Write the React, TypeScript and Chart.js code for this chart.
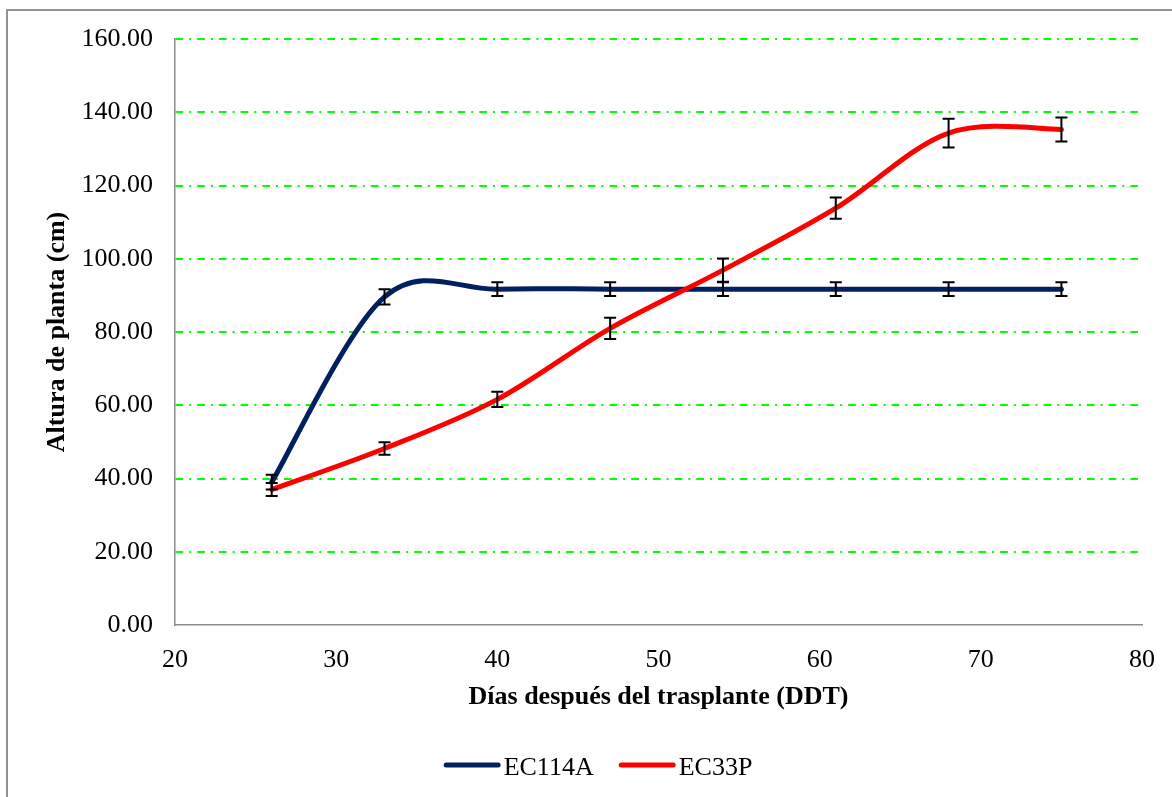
import React, { useEffect, useRef } from 'react';
import { Chart, registerables } from 'chart.js';

Chart.register(...registerables);

// ---- data ----
const DAYS = [26, 33, 40, 47, 54, 61, 68, 75];
const EC114A = [39.0, 89.6, 91.7, 91.7, 91.7, 91.7, 91.7, 91.7];
const EC114A_ERR = [2.0, 2.1, 1.9, 1.9, 1.9, 1.9, 1.9, 1.9];
const EC33P = [37.0, 48.2, 61.6, 81.0, 96.9, 113.8, 134.3, 135.3];
const EC33P_ERR = [1.8, 1.7, 2.1, 2.9, 3.2, 2.9, 3.9, 3.3];
const SERIES_NAMES = ['EC114A', 'EC33P'];
const SERIES_COLORS = ['#002060', '#FF0000'];
const X_MIN = 20;
const X_MAX = 80;
const X_STEP = 10;
const Y_MIN = 0;
const Y_MAX = 160;
const Y_STEP = 20;
const X_TITLE = 'Días después del trasplante (DDT)';
const Y_TITLE = 'Altura de planta (cm)';

const FONT = "'Liberation Serif', 'Times New Roman', serif";

// Excel-like smoothing: Catmull-Rom control points (tangent = (next - prev) / 6)
const excelSmoothPlugin = {
  id: 'excelSmooth',
  beforeDatasetsDraw(chart: any) {
    chart.data.datasets.forEach((_ds: any, di: number) => {
      const meta = chart.getDatasetMeta(di);
      const line = meta.dataset;
      if (line && typeof line.updateControlPoints === 'function') {
        line.updateControlPoints(chart.chartArea, 'x');
      }
      const pts = meta.data;
      pts.forEach((p: any, i: number) => {
        const prev = pts[Math.max(i - 1, 0)];
        const next = pts[Math.min(i + 1, pts.length - 1)];
        const tx = (next.x - prev.x) / 6;
        const ty = (next.y - prev.y) / 6;
        p.cp1x = p.x - tx;
        p.cp1y = p.y - ty;
        p.cp2x = p.x + tx;
        p.cp2y = p.y + ty;
      });
    });
  },
};

const errorBarPlugin = {
  id: 'errorBars',
  afterDatasetsDraw(chart: any) {
    const { ctx } = chart;
    const yScale = chart.scales.y;
    ctx.save();
    ctx.strokeStyle = '#000000';
    ctx.lineWidth = 2;
    chart.data.datasets.forEach((ds: any, di: number) => {
      const meta = chart.getDatasetMeta(di);
      const errs: number[] = ds.errors || [];
      meta.data.forEach((el: any, i: number) => {
        const v = ds.data[i].y;
        const e = errs[i] || 0;
        const x = el.x;
        const yt = yScale.getPixelForValue(v + e);
        const yb = yScale.getPixelForValue(v - e);
        const cap = 6;
        ctx.beginPath();
        ctx.moveTo(x, yt);
        ctx.lineTo(x, yb);
        ctx.moveTo(x - cap, yt);
        ctx.lineTo(x + cap, yt);
        ctx.moveTo(x - cap, yb);
        ctx.lineTo(x + cap, yb);
        ctx.stroke();
      });
    });
    ctx.restore();
  },
};

const legendPlugin = {
  id: 'customLegend',
  afterDraw(chart: any) {
    const { ctx } = chart;
    const lineLen = 57;
    const textGap = 3;
    const itemGap = 25;
    ctx.save();
    ctx.font = `26px ${FONT}`;
    const items = chart.data.datasets.map((ds: any) => ({
      label: ds.label,
      color: ds.borderColor,
      w: ctx.measureText(ds.label).width,
    }));
    const total =
      items.reduce((s: number, it: any) => s + lineLen + textGap + it.w, 0) +
      itemGap * (items.length - 1);
    let x = chart.width / 2 - total / 2;
    const yLine = 765;
    const yBase = 774.5;
    items.forEach((it: any) => {
      ctx.strokeStyle = it.color;
      ctx.lineWidth = 5;
      ctx.lineCap = 'round';
      ctx.beginPath();
      ctx.moveTo(x + 2.5, yLine);
      ctx.lineTo(x + lineLen - 2.5, yLine);
      ctx.stroke();
      ctx.fillStyle = '#000000';
      ctx.textBaseline = 'alphabetic';
      ctx.textAlign = 'left';
      ctx.fillText(it.label, x + lineLen + textGap, yBase);
      x += lineLen + textGap + it.w + itemGap;
    });
    ctx.restore();
  },
};

export default function App() {
  const canvasRef = useRef<HTMLCanvasElement | null>(null);

  useEffect(() => {
    if (!canvasRef.current) return;
    const seriesValues = [EC114A, EC33P];
    const seriesErrors = [EC114A_ERR, EC33P_ERR];
    const datasets = SERIES_NAMES.map((name, si) => ({
      label: name,
      data: DAYS.map((d, i) => ({ x: d, y: seriesValues[si][i] })),
      errors: seriesErrors[si],
      borderColor: SERIES_COLORS[si],
      backgroundColor: SERIES_COLORS[si],
      borderWidth: 5,
      borderCapStyle: 'round',
      borderJoinStyle: 'round',
      pointRadius: 0,
      pointHoverRadius: 0,
      tension: 0.4,
      fill: false,
      order: si === 1 ? 0 : 1,
    }));

    const chart = new Chart(canvasRef.current, {
      type: 'line',
      data: { datasets: datasets as any },
      options: {
        animation: false,
        responsive: false,
        events: [],
        layout: { padding: { left: 0, right: 54, top: 39, bottom: 80 } },
        plugins: {
          legend: { display: false },
          tooltip: { enabled: false },
        },
        scales: {
          x: {
            type: 'linear',
            min: X_MIN,
            max: X_MAX,
            ticks: {
              stepSize: X_STEP,
              padding: 20,
              color: '#000000',
              font: { family: FONT, size: 26 },
            },
            grid: { display: false, drawTicks: false },
            border: { display: true, color: '#8c8c8c', width: 1.5 },
            title: {
              display: true,
              text: X_TITLE,
              color: '#000000',
              font: { family: FONT, size: 26, weight: 'bold' },
              padding: { top: 0, bottom: 4 },
            },
            afterFit(scale: any) {
              scale.height = 92;
            },
          },
          y: {
            type: 'linear',
            min: Y_MIN,
            max: Y_MAX,
            ticks: {
              stepSize: Y_STEP,
              padding: 22,
              color: '#000000',
              font: { family: FONT, size: 26 },
              callback: (v: any) => Number(v).toFixed(2),
            },
            grid: {
              color: (c: any) => (c.tick && c.tick.value === 0 ? 'rgba(0,0,0,0)' : '#00FF00'),
              lineWidth: 2,
              drawTicks: false,
            },
            border: { display: true, color: '#8c8c8c', width: 1.5, dash: [7.7, 6, 2, 6] },
            title: {
              display: true,
              text: Y_TITLE,
              color: '#000000',
              font: { family: FONT, size: 26, weight: 'bold' },
              padding: { top: 42, bottom: 0 },
            },
            afterFit(scale: any) {
              scale.width = 175;
            },
          },
        },
      } as any,
      plugins: [excelSmoothPlugin, errorBarPlugin, legendPlugin],
    });
    return () => chart.destroy();
  }, []);

  return (
    <div>
      <div
        style={{
          position: 'fixed',
          left: 6,
          top: 9,
          width: 1400,
          height: 1000,
          border: '2px solid #939393',
          boxSizing: 'border-box',
          background: '#ffffff',
        }}
      />
      <canvas
        ref={canvasRef}
        width={1196}
        height={797}
        style={{ position: 'fixed', left: 0, top: 0, width: 1196, height: 797 }}
      />
    </div>
  );
}
